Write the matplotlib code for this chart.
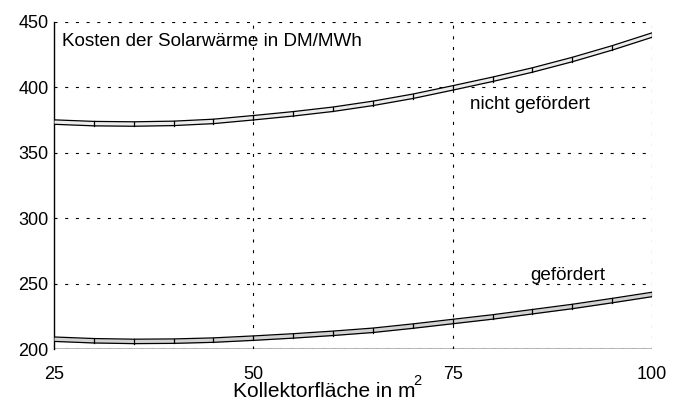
import matplotlib
matplotlib.use("Agg")
import matplotlib.pyplot as plt
import numpy as np

# Kollektorfläche (m^2) an den Segmentgrenzen
flaeche = [25, 30, 35, 40, 45, 50, 55, 60, 65, 70, 75, 80, 85, 90, 95, 100]
# Kosten der Solarwärme in DM/MWh
nicht_gefoerdert = [373.5, 372.3, 372.0, 372.5, 374.0, 376.8, 379.8, 383.3,
                    387.8, 393.2, 399.6, 406.2, 413.3, 421.3, 430.2, 440.0]
gefoerdert = [207.5, 206.3, 205.8, 206.0, 206.8, 208.3, 210.0, 212.0,
              214.3, 217.5, 221.0, 224.5, 228.5, 232.5, 237.0, 241.7]

x_ticks = [25, 50, 75, 100]
y_ticks = [200, 250, 300, 350, 400, 450]

plt.rcParams["font.family"] = ["Liberation Sans", "DejaVu Sans"]
plt.rcParams["lines.scale_dashes"] = False

fig = plt.figure(figsize=(6.85, 4.01), dpi=100)
ax = fig.add_axes([54 / 685, 1 - 349 / 401, 598 / 685, 327 / 401])

ax.set_xlim(25, 100)
ax.set_ylim(200, 450)
ax.set_xticks(x_ticks)
ax.set_yticks(y_ticks)
ax.tick_params(length=0, labelsize=13)
ax.tick_params(axis="x", pad=12)
ax.tick_params(axis="y", pad=4)

for s in ["top", "right", "bottom"]:
    ax.spines[s].set_visible(False)
ax.spines["left"].set_linewidth(1.0)

# gray base line and dashed grid
ax.axhline(200, color="#bbbbbb", lw=1.5, zorder=1)
dash = (0, (2.2, 5.5))
for yv in y_ticks:
    ax.axhline(yv, color="black", lw=0.8, linestyle=dash, zorder=2)
for xv in x_ticks[1:]:
    ax.axvline(xv, color="black", lw=0.8, linestyle=dash, zorder=2)


def ribbon(xs, ys, half, fill):
    xs = np.array(xs, dtype=float)
    ys = np.array(ys, dtype=float)
    ax.fill_between(xs, ys - half, ys + half, color=fill, lw=0, zorder=3)
    ax.plot(xs, ys + half, color="black", lw=0.9, zorder=4)
    ax.plot(xs, ys - half, color="black", lw=0.9, zorder=4)
    for xv, yv in zip(xs[1:], ys[1:]):
        ax.plot([xv, xv], [yv - half, yv + half], color="black", lw=0.9, zorder=4)


ribbon(flaeche, nicht_gefoerdert, 1.7, "#ececec")
ribbon(flaeche, gefoerdert, 1.7, "#d2d2d2")

ax.text(26.0, 435, "Kosten der Solarwärme in DM/MWh", fontsize=13.6,
        va="center", ha="left")
ax.text(77.2, 387, "nicht gefördert", fontsize=13.6, va="center", ha="left")
ax.text(84.7, 256.5, "gefördert", fontsize=13.6, va="center", ha="left")

fig.text(233 / 685, 1 - 397 / 401, "Kollektorfläche in m", fontsize=15,
         ha="left", va="baseline")
fig.text(417 / 685, 1 - 381 / 401, "2", fontsize=10.5, ha="center", va="center")

fig.savefig("out.png", dpi=100)
